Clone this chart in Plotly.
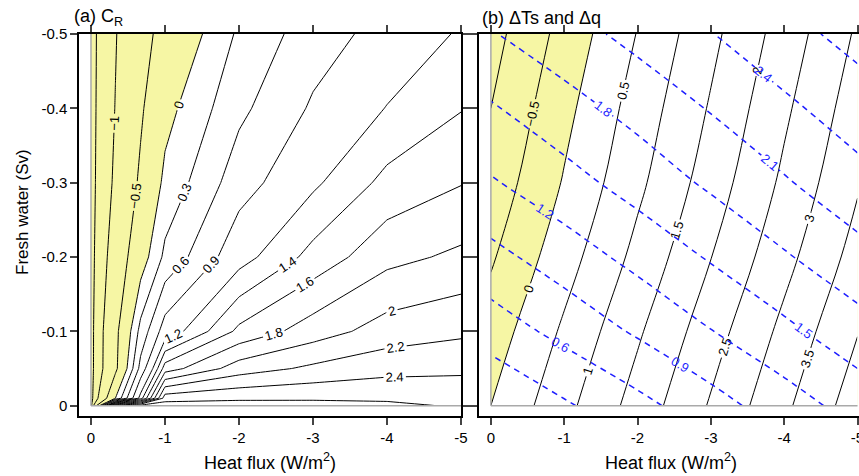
import plotly.graph_objects as go

# ---------------- data: panel (a) C_R ----------------
heat_a = [0, -0.33, -0.67, -1, -2, -3, -4, -5]
fresh_a = [0, -0.01, -0.05, -0.1, -0.2, -0.3, -0.4, -0.5]
cr_rows = [
    [-1.40, 2.60, 2.70, 2.70, 2.70, 2.68, 2.64, 2.58],
    [-1.40, 0.00, 1.30, 2.51, 2.56, 2.57, 2.57, 2.53],
    [-1.38, -0.60, 0.70, 1.70, 2.10, 2.24, 2.33, 2.36],
    [-1.38, -0.62, 0.40, 1.05, 1.65, 1.90, 2.09, 2.16],
    [-1.38, -0.81, -0.18, 0.37, 1.11, 1.47, 1.74, 1.84],
    [-1.38, -0.94, -0.43, 0.08, 0.77, 1.16, 1.46, 1.59],
    [-1.38, -0.99, -0.56, -0.11, 0.53, 0.94, 1.21, 1.39],
    [-1.38, -1.02, -0.65, -0.36, 0.35, 0.76, 1.01, 1.23],
]
cr_levels = [-1.3, -1, -0.5, 0, 0.3, 0.6, 0.9, 1.2, 1.4, 1.6, 1.8, 2, 2.2, 2.4, 2.6]

# ---------------- data: panel (b) dTs and dq ----------------
heat_b = [0, -1, -2, -3, -4, -5]
fresh_b = [0, -0.1, -0.2, -0.3, -0.4, -0.5]
dts_rows = [
    [0.00, 0.85, 1.70, 2.55, 3.40, 4.26],
    [-0.27, 0.58, 1.43, 2.28, 3.13, 3.98],
    [-0.56, 0.29, 1.14, 1.99, 2.84, 3.69],
    [-0.81, 0.04, 0.89, 1.74, 2.60, 3.45],
    [-1.00, -0.14, 0.71, 1.55, 2.41, 3.26],
    [-1.18, -0.33, 0.52, 1.37, 2.22, 3.07],
]
dq_rows = [
    [0.00, 0.26, 0.51, 0.78, 1.06, 1.32],
    [0.44, 0.69, 0.94, 1.19, 1.43, 1.68],
    [0.81, 1.05, 1.29, 1.53, 1.77, 2.00],
    [1.17, 1.39, 1.62, 1.85, 2.07, 2.30],
    [1.47, 1.69, 1.90, 2.12, 2.34, 2.55],
    [1.78, 1.98, 2.19, 2.39, 2.60, 2.80],
]
dts_levels = (-1.0, 4.0, 0.5)   # start, end, step
dq_levels = (0.3, 2.7, 0.3)

x_ticks = [0, -1, -2, -3, -4, -5]
x_ticktext = ["0", "-1", "-2", "-3", "-4", "-5"]
y_ticks = [0, -0.1, -0.2, -0.3, -0.4, -0.5]
y_ticktext = ["0", "-0.1", "-0.2", "-0.3", "-0.4", "-0.5"]

YELLOW = "#F6F6A4"
GRAY = "#A9A9A9"
FONT = "Liberation Sans, Arial, sans-serif"
W, H = 859, 476

fig = go.Figure()


def fill_neg(x, y, z, xa, ya, smooth):
    return go.Contour(
        x=x, y=y, z=z, xaxis=xa, yaxis=ya, autocontour=False,
        contours=dict(start=0, end=0, size=1, coloring="fill", showlines=False),
        colorscale=[[0, YELLOW], [0.5, YELLOW], [0.5, "white"], [1, "white"]],
        showscale=False, line=dict(width=0, smoothing=smooth), hoverinfo="skip")


def line_trace(x, y, z, xa, ya, start, end, size, color, dash, width, smooth, lsize):
    return go.Contour(
        x=x, y=y, z=z, xaxis=xa, yaxis=ya, autocontour=False,
        contours=dict(start=start, end=end, size=size, coloring="none",
                      showlabels=True,
                      labelfont=dict(size=lsize, color=color, family=FONT)),
        line=dict(color=color, width=width, dash=dash, smoothing=smooth),
        showscale=False, hoverinfo="skip")


# panel a
fig.add_trace(fill_neg(heat_a, fresh_a, cr_rows, "x", "y", 0))
for lv in cr_levels:
    fig.add_trace(line_trace(heat_a, fresh_a, cr_rows, "x", "y", lv, lv, 1,
                             "black", "solid", 1, 0, 13))

# panel b
fig.add_trace(fill_neg(heat_b, fresh_b, dts_rows, "x2", "y2", 1))
fig.add_trace(line_trace(heat_b, fresh_b, dts_rows, "x2", "y2",
                         dts_levels[0], dts_levels[1], dts_levels[2],
                         "black", "solid", 1, 1, 13))
fig.add_trace(line_trace(heat_b, fresh_b, dq_rows, "x2", "y2",
                         dq_levels[0], dq_levels[1], dq_levels[2],
                         "#1E1EFF", "6px,5px", 1.5, 1, 13))

# geometry (pixels)
ax_left_a, ax_right_a = 79, 461
ax_left_b, ax_right_b = 479, 859
ax_top, ax_bottom = 34, 416

common_x = dict(tickvals=x_ticks, ticktext=x_ticktext, ticks="outside", ticklen=7,
                tickwidth=1.5, showline=True, linewidth=1.5, linecolor="black",
                mirror="ticks", showgrid=False, zeroline=False, automargin=False,
                ticklabeloverflow="allow",
                tickfont=dict(size=15, color="black", family=FONT))
common_y = dict(tickvals=y_ticks, ticktext=y_ticktext, ticks="outside", ticklen=7,
                tickwidth=1.5, showline=True, linewidth=1.5, linecolor="black",
                mirror="ticks", showgrid=False, zeroline=False, automargin=False,
                tickfont=dict(size=15, color="black", family=FONT),
                range=[0.0139, -0.5],
                domain=[(H - ax_bottom) / H, (H - ax_top) / H])

fig.update_layout(
    width=W, height=H, margin=dict(l=0, r=0, t=0, b=0),
    paper_bgcolor="white", plot_bgcolor="white", showlegend=False,
    font=dict(family=FONT, color="black"),
    xaxis=dict(common_x, domain=[ax_left_a / W, ax_right_a / W],
               range=[0.162, -5], anchor="y"),
    yaxis=dict(common_y, anchor="x"),
    xaxis2=dict(common_x, domain=[ax_left_b / W, ax_right_b / W],
                range=[0.162, -5.02], anchor="y2"),
    yaxis2=dict(common_y, anchor="x2", showticklabels=False),
)

# gray inner borders of the data region (left and bottom edges)
for xa, ya, hx, fy in (("x", "y", heat_a, fresh_a), ("x2", "y2", heat_b, fresh_b)):
    fig.add_shape(type="line", xref=xa, yref=ya, x0=hx[0], x1=hx[0], y0=fy[0], y1=fy[-1],
                  line=dict(color=GRAY, width=1.5), layer="above")
    fig.add_shape(type="line", xref=xa, yref=ya, x0=hx[0], x1=hx[-1], y0=fy[0], y1=fy[0],
                  line=dict(color=GRAY, width=1.5), layer="above")


def px_x(p):
    return p / W


def px_y(p):
    return 1 - p / H


fig.add_annotation(text="(a) C<sub>R</sub>", x=px_x(72), y=px_y(18), xref="paper", yref="paper",
                   xanchor="left", yanchor="middle", showarrow=False,
                   font=dict(size=18, color="black", family=FONT))
fig.add_annotation(text="(b) \u0394Ts and \u0394q", x=px_x(480), y=px_y(18), xref="paper",
                   yref="paper", xanchor="left", yanchor="middle", showarrow=False,
                   font=dict(size=18, color="black", family=FONT))
fig.add_annotation(text="Fresh water (Sv)", x=px_x(22), y=px_y(212), xref="paper",
                   yref="paper", xanchor="center", yanchor="middle", textangle=-90,
                   showarrow=False, font=dict(size=17, color="black", family=FONT))
for cx in (270, 671):
    fig.add_annotation(text="Heat flux (W/m<sup>2</sup>)", x=px_x(cx), y=px_y(461),
                       xref="paper", yref="paper", xanchor="center", yanchor="middle",
                       showarrow=False, font=dict(size=18, color="black", family=FONT))

fig.write_html("out.html")
